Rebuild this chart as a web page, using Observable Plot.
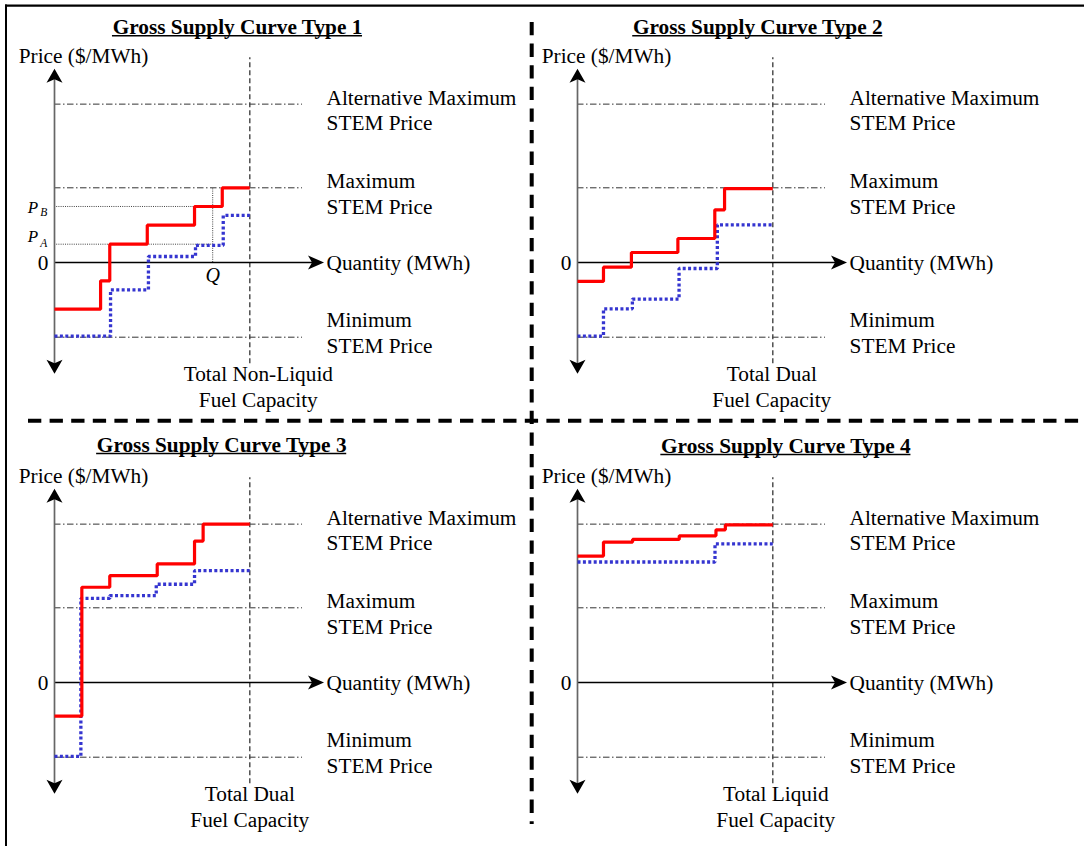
<!DOCTYPE html>
<html>
<head>
<meta charset="utf-8">
<script src="https://cdn.jsdelivr.net/npm/d3@7"></script>
<script src="https://cdn.jsdelivr.net/npm/@observablehq/plot@0.6"></script>
<style>
html, body { margin: 0; padding: 0; background: #fff; }
#root { position: relative; width: 1084px; height: 846px; overflow: hidden; background: #fff; }
.panel { position: absolute; }
.panel svg { overflow: visible; }
</style>
</head>
<body>
<div id="root">
<svg id="frame" width="1084" height="846" style="position:absolute;left:0;top:0">
  <line x1="5" y1="5.7" x2="1084" y2="5.7" stroke="#000" stroke-width="2.2"/>
  <line x1="6" y1="4.6" x2="6" y2="846" stroke="#000" stroke-width="2"/>
  <line x1="531.7" y1="22" x2="531.7" y2="824" stroke="#000" stroke-width="4" stroke-dasharray="13.3,8.3"/>
  <line x1="28" y1="420.7" x2="1084" y2="420.7" stroke="#000" stroke-width="4" stroke-dasharray="13.3,8.3"/>
</svg>
</div>
<script>
// ---------- data (quantity in units of capacity/10, price in units of Maximum STEM Price) ----------
const titles = ["Gross Supply Curve Type 1", "Gross Supply Curve Type 2", "Gross Supply Curve Type 3", "Gross Supply Curve Type 4"];
const capacityLabels = ["Total Non-Liquid\nFuel Capacity", "Total Dual\nFuel Capacity", "Total Dual\nFuel Capacity", "Total Liquid\nFuel Capacity"];
const refLevels = [2.12, 1, -1];
const refLabels = ["Alternative Maximum\nSTEM Price", "Maximum\nSTEM Price", "Minimum\nSTEM Price"];
const yAxisLabel = "Price ($/MWh)";
const xAxisLabel = "Quantity (MWh)";
const zeroLabel = "0";
const capacity = 10;

const type1RedQty = [0, 2.36, 2.83, 4.75, 7.17, 8.59, 10];
const type1RedPrice = [-0.625, -0.245, 0.245, 0.5, 0.75, 1.0, 1.0];
const type1BlueQty = [0, 2.87, 4.81, 7.22, 8.64, 10];
const type1BluePrice = [-0.985, -0.366, 0.08, 0.23, 0.63, 0.63];

const type2RedQty = [0, 1.33, 2.76, 5.14, 7.03, 7.53, 10];
const type2RedPrice = [-0.254, -0.063, 0.134, 0.321, 0.705, 0.99, 0.99];
const type2BlueQty = [0, 1.33, 2.81, 5.2, 7.16, 10];
const type2BluePrice = [-0.985, -0.62, -0.49, -0.08, 0.505, 0.505];

const type3RedQty = [0, 1.4, 2.83, 5.26, 7.17, 7.61, 10];
const type3RedPrice = [-0.45, 1.275, 1.43, 1.587, 1.893, 2.12, 2.12];
const type3BlueQty = [0, 1.35, 2.83, 5.21, 7.17, 10];
const type3BluePrice = [-0.99, 1.125, 1.164, 1.315, 1.497, 1.497];

const type4RedQty = [0, 1.33, 2.82, 5.21, 7.09, 7.57, 10];
const type4RedPrice = [1.692, 1.88, 1.915, 1.964, 2.044, 2.11, 2.11];
const type4BlueQty = [0, 7.04, 10];
const type4BluePrice = [1.613, 1.857, 1.857];

// Type 1 annotations
const priceA = 0.245, priceB = 0.75, quantityQ = 8.1;

// ---------- layout ----------
const series = [
  {redQ: type1RedQty, redP: type1RedPrice, blueQ: type1BlueQty, blueP: type1BluePrice},
  {redQ: type2RedQty, redP: type2RedPrice, blueQ: type2BlueQty, blueP: type2BluePrice},
  {redQ: type3RedQty, redP: type3RedPrice, blueQ: type3BlueQty, blueP: type3BluePrice},
  {redQ: type4RedQty, redP: type4RedPrice, blueQ: type4BlueQty, blueP: type4BluePrice}
];
const layout = [
  {left: 0, top: 0, titleX: 9.37, titleY: 3.15, capDx: 8.5},
  {left: 522.5, top: 0, titleX: 9.23, titleY: 3.15, capDx: -1},
  {left: 0, top: 420.3, titleX: 8.56, titleY: 3.18, capDx: 0},
  {left: 522.5, top: 420.3, titleX: 10.67, titleY: 3.165, capDx: 3}
];
const labelDy = [5, 5, -5.4];
const fontFamily = "'Liberation Serif', 'Times New Roman', Times, serif";
const FS = 21.3;
const pxPerQty = (249.3 - 54) / 10;

const measureCtx = document.createElement("canvas").getContext("2d");
measureCtx.font = "bold " + FS + "px 'Liberation Serif'";

const arrowUp = {draw(ctx) { ctx.moveTo(0, 0); ctx.lineTo(8, 14); ctx.lineTo(0, 10.5); ctx.lineTo(-8, 14); ctx.closePath(); }};
const arrowDown = {draw(ctx) { ctx.moveTo(0, 0); ctx.lineTo(8, -14); ctx.lineTo(0, -10.5); ctx.lineTo(-8, -14); ctx.closePath(); }};
const arrowRight = {draw(ctx) { ctx.moveTo(0, 0); ctx.lineTo(-16, -7); ctx.lineTo(-12, 0); ctx.lineTo(-16, 7); ctx.closePath(); }};

const root = document.getElementById("root");

layout.forEach((L, i) => {
  const s = series[i];
  const red = s.redQ.map((q, j) => ({q, p: s.redP[j]}));
  const blue = s.blueQ.map((q, j) => ({q, p: s.blueP[j]}));
  const marks = [];

  // reference dash-dot price levels
  marks.push(Plot.ruleY(refLevels, {x1: 0, x2: 12.7, stroke: "#333", strokeWidth: 1, strokeDasharray: "6.5,2.5,1.5,2.5"}));
  // capacity
  marks.push(Plot.ruleX([capacity], {y1: -1.356, y2: 2.74, stroke: "#444", strokeWidth: 1.4, strokeDasharray: "5,3"}));

  if (i === 0) {
    marks.push(Plot.ruleY([priceA, priceB], {x1: 0, x2: quantityQ, stroke: "#444", strokeWidth: 1, strokeDasharray: "1,1.2"}));
    marks.push(Plot.ruleX([quantityQ], {y1: 0, y2: 1, stroke: "#444", strokeWidth: 1, strokeDasharray: "1,1.2"}));
  }

  // axes
  marks.push(Plot.ruleY([0], {x1: 0, x2: 13.5, stroke: "#000", strokeWidth: 1.3}));
  marks.push(Plot.ruleX([0], {y1: -1.4, y2: 2.5, stroke: "#666", strokeWidth: 1.7}));

  // supply curves
  marks.push(Plot.line(blue, {x: "q", y: "p", curve: "step-after", stroke: "#3535d0", strokeWidth: 3.3, strokeDasharray: "3,2.4", strokeLinecap: "butt", strokeLinejoin: "miter"}));
  marks.push(Plot.line(red, {x: "q", y: "p", curve: "step-after", stroke: "#ff0000", strokeWidth: 3.2, strokeLinecap: "butt", strokeLinejoin: "miter"}));

  // arrowheads
  marks.push(Plot.dot([{q: 0, p: 2.593}], {x: "q", y: "p", symbol: arrowUp, fill: "#000", stroke: "none"}));
  marks.push(Plot.dot([{q: 0, p: -1.49}], {x: "q", y: "p", symbol: arrowDown, fill: "#000", stroke: "none"}));
  marks.push(Plot.dot([{q: 13.8, p: 0}], {x: "q", y: "p", symbol: arrowRight, fill: "#000", stroke: "none"}));

  // title with underline
  const halfW = measureCtx.measureText(titles[i]).width / 2 / pxPerQty;
  marks.push(Plot.text([titles[i]], {x: L.titleX, y: L.titleY, text: d => d, fontWeight: "bold", fontSize: FS, fill: "#000"}));
  marks.push(Plot.ruleY([L.titleY], {x1: L.titleX - halfW, x2: L.titleX + halfW, dy: 8.5, stroke: "#000", strokeWidth: 1.5}));

  // texts
  marks.push(Plot.text([yAxisLabel], {x: -1.83, y: 2.76, text: d => d, textAnchor: "start", fontSize: FS, fill: "#000"}));
  marks.push(Plot.text([zeroLabel], {x: 0, y: 0, text: d => d, textAnchor: "end", dx: -6, dy: 1, fontSize: FS, fill: "#000"}));
  marks.push(Plot.text([xAxisLabel], {x: 13.93, y: 0, text: d => d, textAnchor: "start", dy: 1, fontSize: FS, fill: "#000"}));
  refLabels.forEach((t, j) => {
    marks.push(Plot.text([t], {x: 13.93, y: refLevels[j], text: d => d, textAnchor: "start", lineAnchor: "middle", lineHeight: 1.2, dy: labelDy[j], fontSize: FS, fill: "#000"}));
  });
  marks.push(Plot.text([capacityLabels[i]], {x: capacity, y: -1.645, text: d => d, textAnchor: "middle", lineAnchor: "middle", lineHeight: 1.24, dx: L.capDx, fontSize: FS, fill: "#000"}));

  if (i === 0) {
    marks.push(Plot.text(["P"], {x: 0, y: priceB, text: d => d, textAnchor: "start", dx: -26.7, dy: 0.7, fontStyle: "italic", fontSize: 17, fill: "#000"}));
    marks.push(Plot.text(["B"], {x: 0, y: priceB, text: d => d, textAnchor: "start", dx: -14.2, dy: 5.8, fontStyle: "italic", fontSize: 11.5, fill: "#000"}));
    marks.push(Plot.text(["P"], {x: 0, y: priceA, text: d => d, textAnchor: "start", dx: -26.7, dy: -7.5, fontStyle: "italic", fontSize: 17, fill: "#000"}));
    marks.push(Plot.text(["A"], {x: 0, y: priceA, text: d => d, textAnchor: "start", dx: -14.2, dy: -0.5, fontStyle: "italic", fontSize: 11.5, fill: "#000"}));
    marks.push(Plot.text(["Q"], {x: quantityQ, y: 0, text: d => d, textAnchor: "middle", dy: 13.5, fontStyle: "italic", fontSize: 20, fill: "#000"}));
  }

  const chart = Plot.plot({
    width: 545,
    height: 426,
    margin: 0,
    x: {domain: [0, 10], range: [54, 249.3], axis: null},
    y: {domain: [0, 1], range: [262, 187.3], axis: null},
    style: {background: "transparent", overflow: "visible", fontFamily: fontFamily, fontSize: FS + "px", color: "#000"},
    marks
  });
  const div = document.createElement("div");
  div.className = "panel";
  div.style.left = L.left + "px";
  div.style.top = L.top + "px";
  div.style.width = "545px";
  div.style.height = "426px";
  div.appendChild(chart);
  root.appendChild(div);
});
</script>
</body>
</html>
